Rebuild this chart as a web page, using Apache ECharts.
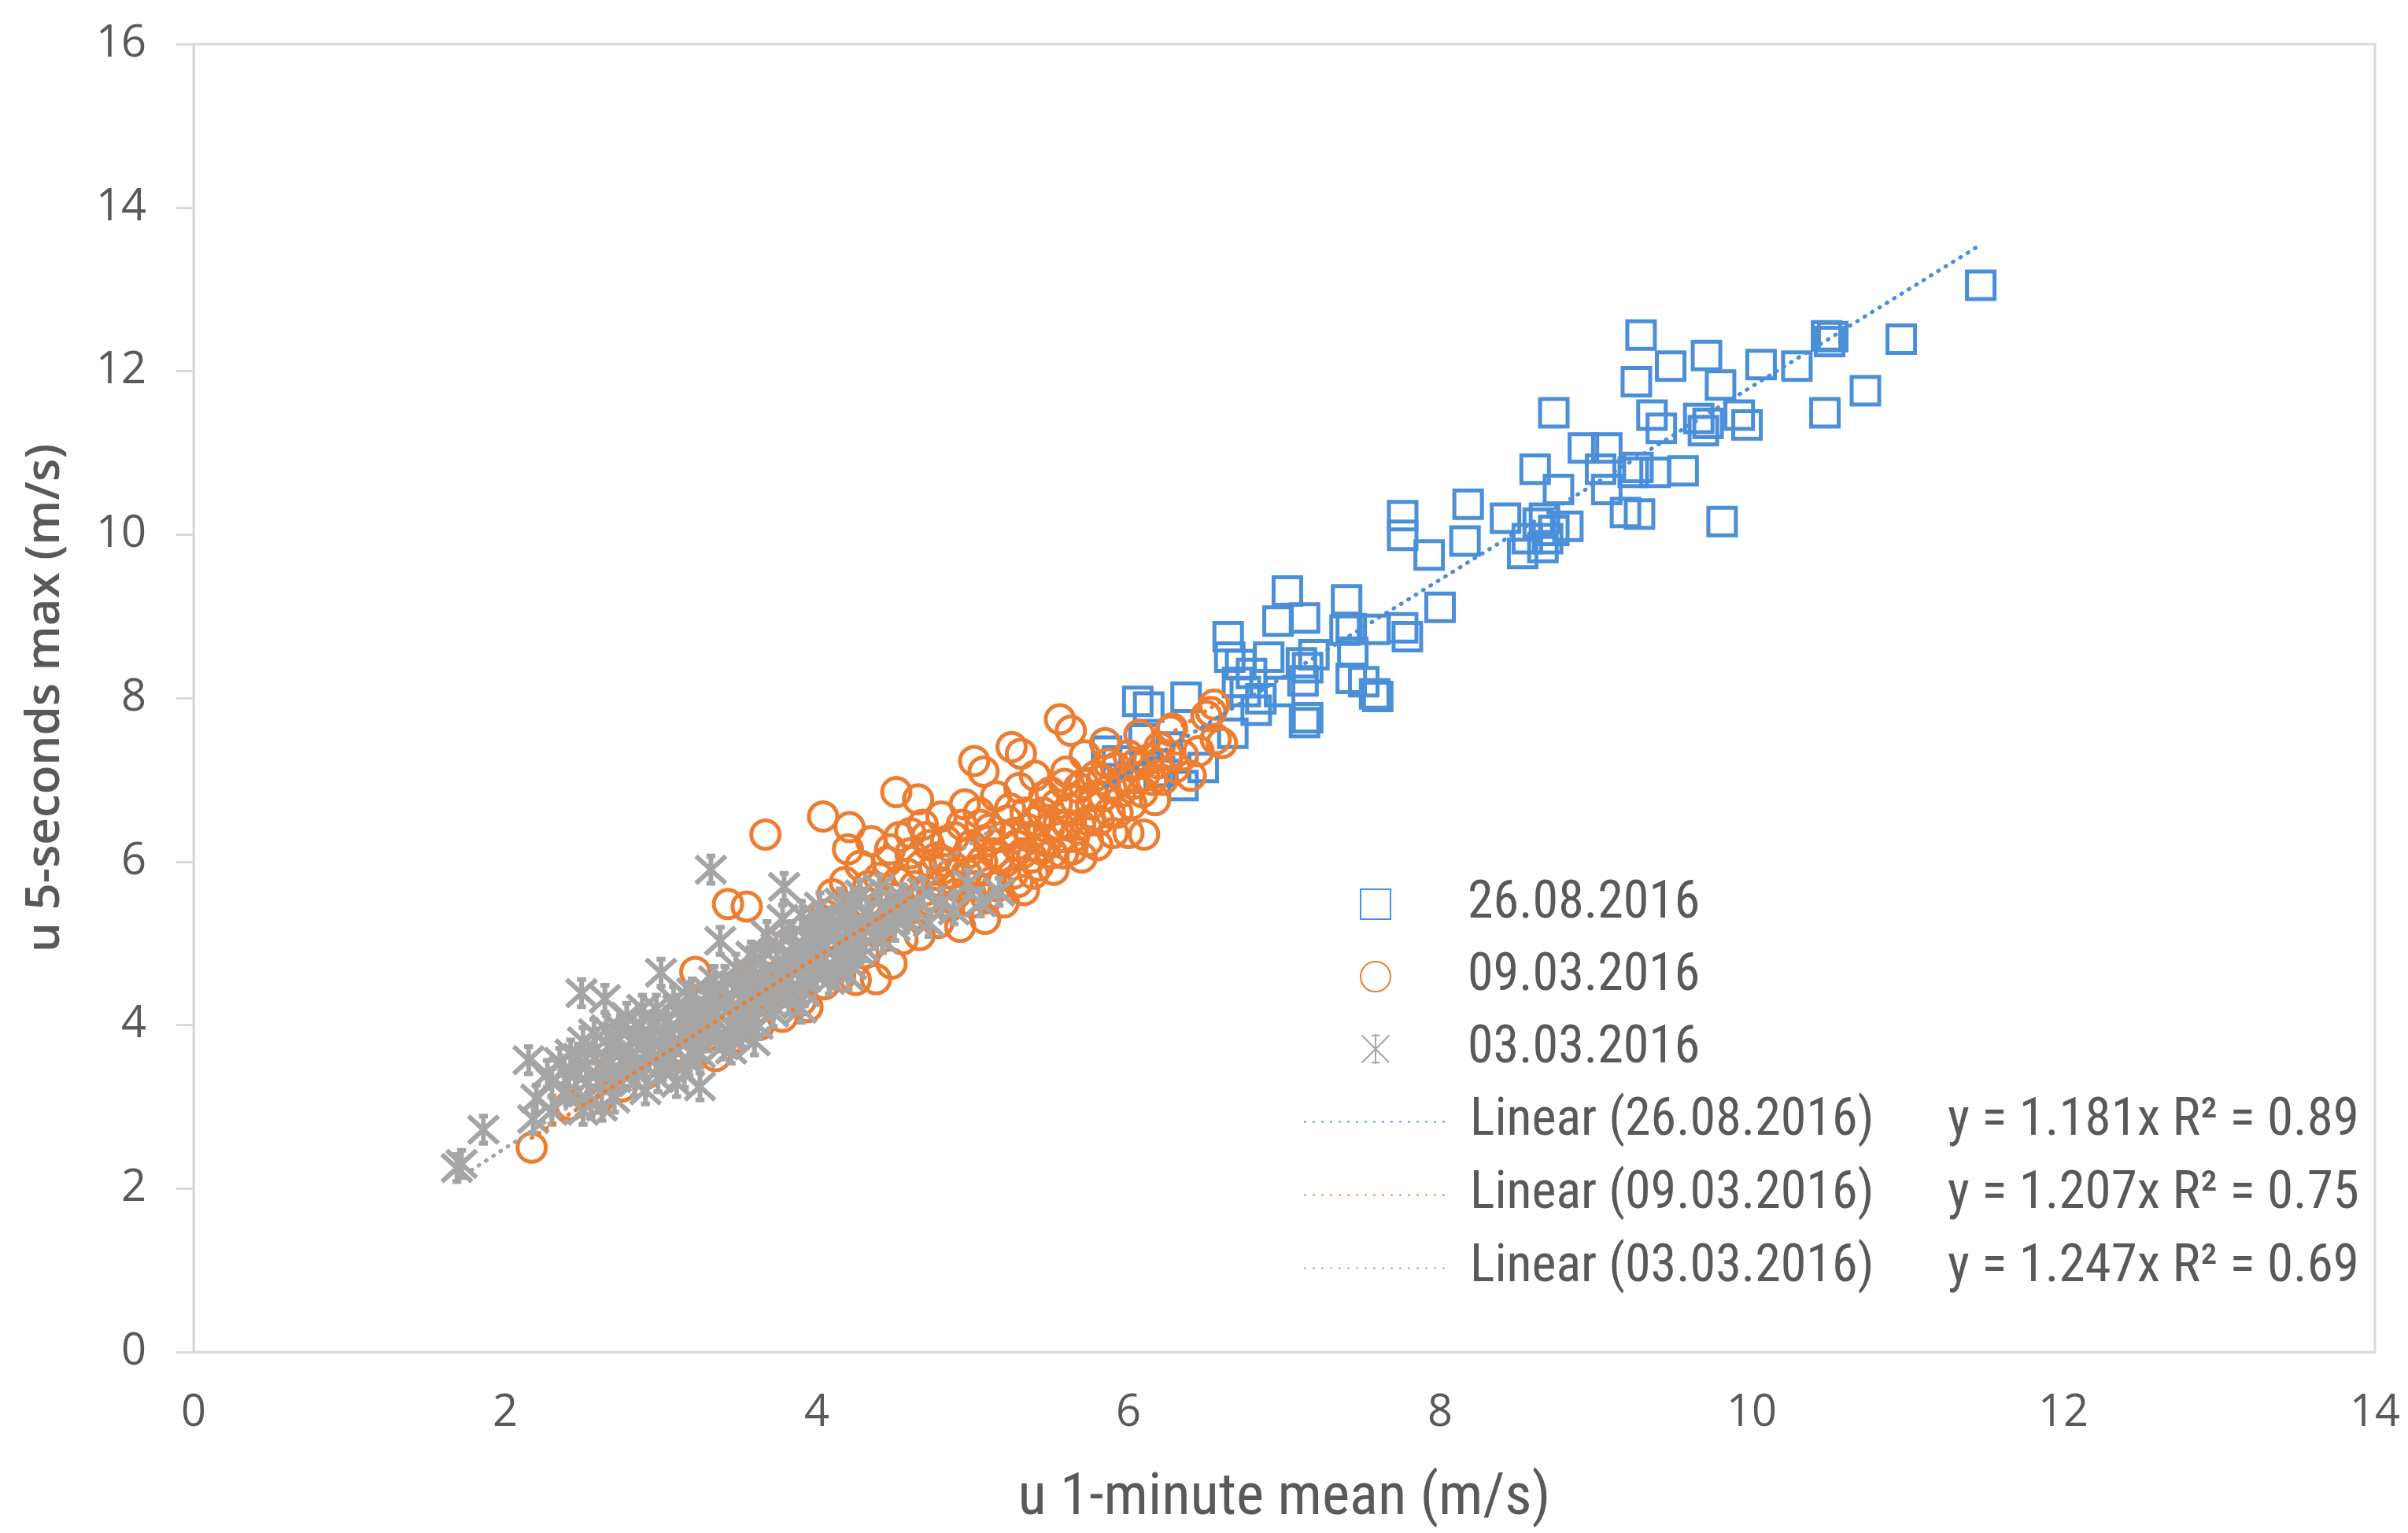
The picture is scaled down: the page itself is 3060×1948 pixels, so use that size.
<!DOCTYPE html>
<html>
<head>
<meta charset="utf-8">
<script src="https://cdn.jsdelivr.net/npm/echarts@6/dist/echarts.min.js"></script>
<style>html,body{margin:0;padding:0;background:#fff;}#c{width:3060px;height:1948px;}</style>
</head>
<body>
<div id="c"></div>
<script>
// ---------------- DATA ----------------
const seriesNames = ['26.08.2016', '09.03.2016', '03.03.2016'];
const trendNames = ['Linear (26.08.2016)', 'Linear (09.03.2016)', 'Linear (03.03.2016)'];
const trendSlopes = [1.181, 1.207, 1.247];
const trendR2 = ['0.89', '0.75', '0.69'];
const xTicks = [0, 2, 4, 6, 8, 10, 12, 14];
const yTicks = [0, 2, 4, 6, 8, 10, 12, 14, 16];

const data26 = [
[11.47,13.05],[9.29,12.44],[9.71,12.19],[9.48,12.06],[10.06,12.08],[10.29,12.06],[10.48,12.43],[10.5,12.36],[10.52,12.42],[10.96,12.39],
[9.26,11.87],[9.8,11.83],[8.73,11.49],[9.36,11.46],[9.42,11.3],[9.66,11.42],[9.69,11.27],[9.72,11.36],[9.92,11.46],[9.97,11.34],
[10.47,11.49],[10.73,11.76],[8.92,11.06],[9.07,11.06],[8.61,10.8],[9.03,10.8],[9.07,10.55],[9.24,10.76],[9.27,10.82],[9.38,10.76],
[9.56,10.78],[8.76,10.55],[9.19,10.27],[9.28,10.25],[9.81,10.16],[7.76,10.23],[8.18,10.37],[8.42,10.2],[8.63,10.14],[8.67,10.2],
[8.82,10.1],[7.76,9.99],[8.16,9.92],[8.56,9.95],[8.69,9.95],[8.73,10.05],[7.93,9.75],[8.53,9.77],[8.66,9.84],[8.0,9.11],
[7.02,9.31],[7.4,9.2],[6.96,8.94],[7.13,8.98],[7.39,8.83],[7.58,8.84],[7.76,8.86],[7.79,8.75],[6.64,8.75],[6.65,8.5],
[6.72,8.41],[6.79,8.3],[6.9,8.5],[7.11,8.43],[7.15,8.37],[7.12,8.21],[6.7,8.19],[7.43,8.85],[7.44,8.56],[7.43,8.24],
[7.51,8.2],[7.58,8.05],[7.6,8.02],[6.82,7.85],[6.85,7.99],[6.97,8.08],[6.75,8.08],[7.19,8.53],[7.15,7.76],[7.13,7.7],
[6.06,7.96],[6.13,7.89],[6.37,8.01],[6.67,7.57],[6.48,7.15],[6.35,6.93],[6.1,7.5],[6.25,7.4],[5.93,7.23],[5.86,7.35],
[6.2,7.1],[6.02,7.02]
];

const data09 = [
[2.17,2.5],[2.42,3.02],[2.5,3.3],[2.6,3.1],[2.68,3.45],[2.75,3.25],[2.85,3.6],[2.9,3.4],[2.98,3.75],[3.05,3.55],
[3.1,3.95],[3.15,3.7],[3.2,4.1],[3.22,4.65],[3.28,3.85],[3.3,4.3],[3.35,3.62],[3.4,4.05],[3.43,5.48],[3.45,4.4],
[3.5,3.85],[3.52,4.2],[3.55,5.45],[3.6,4.6],[3.63,4.0],[3.67,6.33],[3.7,4.35],[3.72,4.8],[3.78,4.1],[3.82,4.55],
[3.86,5.0],[3.9,4.3],[3.94,4.22],[3.97,4.7],[4.0,5.2],[4.04,6.55],[4.05,4.5],[4.1,4.9],[4.12,5.4],[4.15,4.6],
[4.18,5.75],[4.2,6.15],[4.21,6.42],[4.22,5.1],[4.25,4.55],[4.28,5.95],[4.3,4.88],[4.32,5.5],[4.35,6.25],[4.38,4.56],
[4.4,5.8],[4.42,5.2],[4.45,6.0],[4.48,4.75],[4.5,5.55],[4.51,6.85],[4.53,6.3],[4.55,5.05],[4.58,5.85],[4.6,6.1],
[4.62,5.35],[4.65,6.76],[4.66,5.1],[4.68,6.45],[4.7,5.65],[4.72,6.2],[4.75,5.9],[4.78,5.25],[4.8,6.55],[4.82,6.0],
[4.85,5.45],[4.88,6.3],[4.9,5.7],[4.92,5.2],[4.95,6.7],[4.97,6.1],[5.0,5.5],[5.01,7.23],[5.03,5.9],[5.05,6.45],
[5.07,7.1],[5.08,5.3],[5.1,6.25],[5.12,5.75],[5.15,6.8],[5.17,6.05],[5.2,5.5],[5.22,6.5],[5.25,7.4],[5.26,5.85],
[5.28,6.2],[5.3,6.9],[5.31,7.32],[5.33,5.65],[5.35,6.4],[5.38,6.05],[5.4,7.05],[5.42,5.95],[5.45,6.6],[5.47,6.25],
[5.5,6.85],[5.52,5.9],[5.55,6.45],[5.56,7.74],[5.58,6.1],[5.6,7.1],[5.62,6.65],[5.63,7.6],[5.65,6.3],[5.68,6.9],
[5.7,6.05],[5.72,7.3],[5.75,6.5],[5.78,6.8],[5.8,6.2],[5.83,7.0],[5.85,7.45],[5.88,6.6],[5.9,6.35],[5.92,7.15],
[5.95,6.85],[6.0,6.35],[6.0,7.3],[6.03,6.95],[6.07,7.55],[6.1,6.33],[6.1,7.05],[6.13,7.25],[6.17,6.75],[6.2,7.4],
[6.22,7.0],[6.27,7.6],[6.3,7.15],[6.35,7.3],[6.4,7.05],[6.45,7.35],[6.5,7.78],[6.53,7.83],[6.55,7.92],[6.56,7.5],
[6.28,7.63],[6.6,7.45],
[4.25,5.3],[4.33,5.7],[4.37,5.15],[4.43,5.45],[4.47,6.15],[4.52,5.75],[4.57,5.4],[4.6,6.35],[4.63,5.7],[4.67,5.95],
[4.7,6.3],[4.74,5.5],[4.77,6.05],[4.79,5.75],[4.83,6.25],[4.86,5.85],[4.89,5.6],[4.93,6.45],[4.96,5.85],[4.99,6.2],
[5.02,5.7],[5.04,6.6],[5.06,6.0],[5.09,5.55],[5.11,6.4],[5.14,6.1],[5.16,5.7],[5.19,6.3],[5.21,6.0],[5.24,6.65],
[5.27,6.35],[5.29,5.75],[5.32,6.1],[5.34,6.6],[5.37,6.3],[5.39,5.85],[5.41,6.5],[5.44,6.15],[5.46,6.8],[5.49,6.4],
[5.51,6.1],[5.54,6.7],[5.57,6.3],[5.59,6.95],[5.61,6.45],[5.64,6.15],[5.66,6.75],[5.69,6.45],[5.71,6.95],[5.74,6.25],
[5.76,6.7],[5.79,7.05],[5.81,6.5],[5.84,6.8],[5.87,7.2],[5.89,6.9],[5.93,6.6],[5.97,7.0],[6.02,6.7],[6.05,7.2],
[6.09,6.85],[6.15,7.0],[6.19,7.2],[6.25,7.3],[4.1,5.6],[4.15,5.2],[4.05,5.35],[3.98,4.95],[3.88,4.8],[3.75,4.6],
[3.65,4.3],[3.58,4.45]
];

const data03 = [
[1.69,2.25],[1.72,2.3],[1.86,2.72],[2.15,3.57],[2.18,2.85],[2.3,3.3],[2.35,3.55],[2.4,3.19],[2.42,3.65],[2.45,3.4],
[2.49,4.39],[2.5,3.8],[2.52,3.5],[2.55,3.05],[2.58,3.7],[2.6,3.3],[2.64,4.32],[2.65,3.95],[2.68,3.55],[2.7,3.1],
[2.72,3.8],[2.75,3.4],[2.78,4.1],[2.8,3.6],[2.83,3.3],[2.85,3.85],[2.88,4.2],[2.9,3.5],[2.93,3.7],[2.95,4.0],
[2.98,3.35],[3.0,4.64],[3.02,3.9],[3.05,3.6],[3.08,4.3],[3.1,3.29],[3.12,3.8],[3.15,4.1],[3.18,3.55],[3.2,4.4],
[3.22,3.95],[3.25,3.65],[3.28,4.25],[3.3,3.85],[3.32,5.9],[3.34,4.55],[3.36,4.05],[3.38,5.03],[3.4,3.75],[3.42,4.35],
[3.45,4.0],[3.48,4.7],[3.5,4.2],[3.52,3.9],[3.55,4.5],[3.58,4.85],[3.6,4.25],[3.62,4.0],[3.65,4.6],[3.68,5.1],
[3.7,4.4],[3.72,4.15],[3.75,4.75],[3.78,5.3],[3.79,5.69],[3.8,4.55],[3.82,4.3],[3.85,4.95],[3.88,4.65],[3.9,5.35],
[3.92,4.4],[3.95,4.85],[3.98,5.15],[4.0,4.6],[4.02,5.45],[4.05,4.95],[4.08,4.55],[4.1,5.2],[4.13,4.8],[4.15,5.5],
[4.18,5.0],[4.2,5.4],[4.22,4.73],[4.25,5.15],[4.28,5.6],[4.3,4.95],[4.35,5.3],[4.4,5.67],[4.42,5.05],[4.45,5.45],
[4.5,5.2],[4.55,5.55],[4.6,5.35],[4.68,5.63],[4.72,5.25],[4.8,5.5],[4.88,5.4],[4.97,5.73],[5.05,5.5],[5.17,5.63],
[3.15,3.4],[3.25,3.25],[2.9,3.2],[3.6,3.8],[3.9,4.2],[4.2,4.6],[3.45,3.7],[2.5,2.95],[2.62,3.0],
[2.38,3.45],[2.47,3.6],[2.53,3.3],[2.57,3.9],[2.63,3.5],[2.67,3.75],[2.71,3.35],[2.74,3.95],[2.77,3.55],[2.81,3.8],
[2.84,3.45],[2.87,4.0],[2.91,3.65],[2.94,3.85],[2.97,4.2],[3.01,3.5],[3.04,4.05],[3.07,3.75],[3.11,4.2],[3.14,3.9],
[3.17,4.35],[3.21,3.7],[3.24,4.15],[3.27,3.9],[3.31,4.4],[3.33,4.1],[3.37,3.85],[3.41,4.55],[3.44,4.2],[3.47,3.95],
[3.51,4.45],[3.54,4.1],[3.57,4.65],[3.61,4.35],[3.64,4.8],[3.67,4.5],[3.71,4.25],[3.74,4.95],[3.77,4.6],[3.81,4.4],
[3.84,5.1],[3.87,4.8],[3.91,4.55],[3.94,5.05],[3.97,4.75],[4.01,5.3],[4.04,4.8],[4.07,5.1],[4.11,4.7],[4.14,5.25],
[4.17,4.9],[4.21,5.15],[4.24,5.5],[4.27,4.9],[4.32,5.4],[4.37,5.1],[4.47,5.35],[4.57,5.3],[4.65,5.5],[2.3,2.95],
[2.2,3.1],[2.27,3.4]
];
const seriesData = [data26, data09, data03];

// ---------------- STYLE ----------------
const COLORS = ['#4A8FD8', '#ED7D31', '#A5A5A5'];
const TXT = '#595959';
const AXIS = '#D9D9D9';
const NARROW = '"Liberation Sans Narrow","Arial Narrow","Roboto Condensed","Liberation Sans",sans-serif';
const TICKFONT = '"Open Sans","Noto Sans",sans-serif';
const SQUARE = 'path://M0,0L10,0L10,10L0,10Z';
const STAR = 'path://M0,0L10,10M10,0L0,10M5,-0.5L5,10.5M3.5,0L6.5,0M3.5,10L6.5,10';
const symbols = ['rect', 'circle', STAR];
const legendIcons = [SQUARE, 'circle', STAR];
const symbolSizes = [35, 36, 38];
const borderWidths = [5, 5, 6];

function xRange(d) {
  let mn = Infinity, mx = -Infinity;
  d.forEach(p => { if (p[0] < mn) mn = p[0]; if (p[0] > mx) mx = p[0]; });
  return [mn, mx];
}

const eqText = {};
trendNames.forEach((n, i) => { eqText[n] = 'y = ' + trendSlopes[i].toFixed(3) + 'x R\u00B2 = ' + trendR2[i]; });

const series = [];
seriesNames.forEach((n, i) => {
  series.push({
    name: n, type: 'scatter', data: seriesData[i],
    symbol: symbols[i], symbolSize: symbolSizes[i],
    itemStyle: { color: i === 2 ? COLORS[i] : 'rgba(0,0,0,0)', borderColor: COLORS[i], borderWidth: borderWidths[i], opacity: 1 },
    z: 2 + i, silent: true, animation: false
  });
});
[2, 1, 0].forEach(i => {
  const r = xRange(seriesData[i]);
  series.push({
    name: trendNames[i], type: 'line', symbol: 'none', silent: true, animation: false,
    data: [[r[0], trendSlopes[i] * r[0]], [r[1], trendSlopes[i] * r[1]]],
    lineStyle: { color: COLORS[i], width: 5, type: [1, 10], cap: 'round' },
    itemStyle: { color: COLORS[i] },
    z: 10 + (i === 1 ? 2 : i === 0 ? 1 : 0)
  });
});

const chart = echarts.init(document.getElementById('c'), null, { renderer: 'canvas', devicePixelRatio: 1 });
chart.setOption({
  backgroundColor: '#ffffff',
  animation: false,
  grid: { left: 246, right: 42, top: 56, bottom: 227, show: true, borderColor: AXIS, borderWidth: 3, backgroundColor: 'transparent' },
  xAxis: {
    type: 'value', min: xTicks[0], max: xTicks[xTicks.length - 1], interval: xTicks[1] - xTicks[0],
    axisLine: { show: true, lineStyle: { color: AXIS, width: 3 } },
    axisTick: { show: false }, splitLine: { show: false },
    axisLabel: { fontSize: 56, color: TXT, margin: 50, fontFamily: TICKFONT },
    name: 'u 1-minute mean (m/s)', nameLocation: 'middle', nameGap: 150,
    nameTextStyle: { fontSize: 75, color: TXT, fontFamily: NARROW }
  },
  yAxis: {
    type: 'value', min: yTicks[0], max: yTicks[yTicks.length - 1], interval: yTicks[1] - yTicks[0],
    axisLine: { show: true, lineStyle: { color: AXIS, width: 3 } },
    axisTick: { show: true, length: 22, lineStyle: { color: AXIS, width: 3 } },
    splitLine: { show: false },
    axisLabel: { fontSize: 56, color: TXT, margin: 60, fontFamily: TICKFONT },
    name: 'u 5-seconds max (m/s)', nameLocation: 'middle', nameGap: 158,
    nameTextStyle: { fontSize: 60, color: TXT, fontFamily: TICKFONT, fontWeight: 600 }
  },
  legend: [
    {
      data: seriesNames.map((n, i) => ({ name: n, icon: legendIcons[i] })),
      orient: 'vertical', left: 1723, top: 1111, itemWidth: 224, itemHeight: 38, itemGap: 26,
      selectedMode: false, symbolKeepAspect: true,
      textStyle: { fontSize: 66, color: TXT, fontFamily: NARROW }
    },
    {
      data: trendNames,
      orient: 'vertical', left: 1652, top: 1387, itemWidth: 185, itemHeight: 30, itemGap: 26,
      selectedMode: false,
      itemStyle: { opacity: 0 },
      formatter: n => '{a|' + n + '}{b|' + eqText[n] + '}',
      textStyle: {
        fontSize: 66, color: TXT, fontFamily: NARROW,
        rich: {
          a: { fontSize: 66, color: TXT, fontFamily: NARROW, width: 607, padding: [0, 0, 0, 20] },
          b: { fontSize: 67, color: TXT, fontFamily: NARROW }
        }
      }
    }
  ],
  series: series
});
</script>
</body>
</html>
